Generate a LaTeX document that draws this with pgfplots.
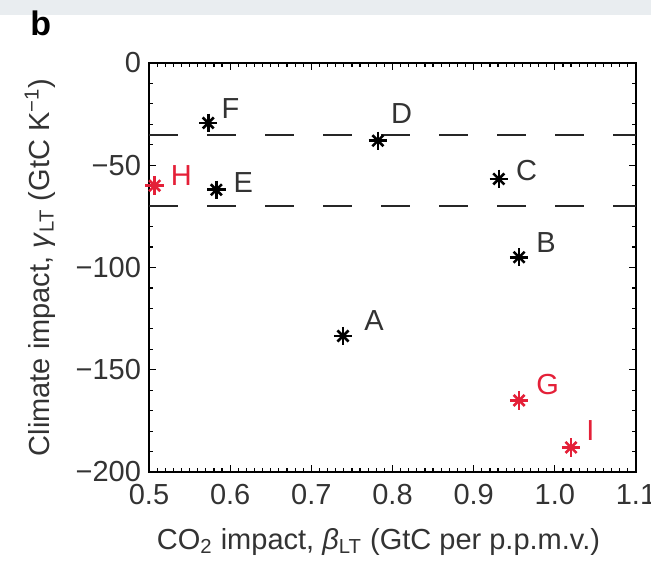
\documentclass[border=0pt]{standalone}
\usepackage{pgfplots}
\pgfplotsset{compat=1.18}
\usepackage{pgfplotstable}
\usepackage{fontspec}
\setmainfont{Liberation Sans}
\definecolor{mred}{RGB}{228,32,56}
\definecolor{band}{RGB}{233,237,240}

\pgfplotstableread{
x y lab dx dy
0.739 -133.5 A 10 7.5
0.956 -95 B 8 7.5
0.931 -56.7 C 8 4
0.782 -38 D 6 13.5
0.583 -62 E 8 3.5
0.573 -29.3 F 6 7
}\blackdata

\pgfplotstableread{
x y lab dx dy
0.956 -165 G 8 8
0.507 -60 H 7.5 5
1.020 -188 I 7 8.5
}\reddata

\begin{document}
\begin{tikzpicture}[font=\fontsize{14.5}{17}\selectfont]
\begin{axis}[
  name=ax, scale only axis, width=243.5pt, height=204.5pt,
  xmin=0.5, xmax=1.1, ymin=-200, ymax=0,
  xtick={0.5,0.6,0.7,0.8,0.9,1.0,1.1},
  xticklabels={0.5,0.6,0.7,0.8,0.9,1.0,1.1},
  ytick={-200,-150,-100,-50,0},
  yticklabels={−200,−150,−100,−50,0},
  minor x tick num=9, minor y tick num=4,
  tick align=inside, major tick length=3.5pt, minor tick length=2pt,
  axis line style={line width=0.8pt},
  tick style={black, line width=0.6pt},
  ticklabel style={font=\fontsize{14.5}{17}\selectfont, text=black!80},
  xticklabel style={yshift=-2.5pt, overlay},
  yticklabel style={xshift=-0.5pt},
  every axis x label/.style={at={(rel axis cs:0.5,0)}, anchor=base, yshift=-38.5pt, xshift=-7pt, font=\fontsize{14.5}{17}\selectfont, text=black!80},
  every axis y label/.style={at={(rel axis cs:0,0.5)}, anchor=center, rotate=90, yshift=54.5pt, font=\fontsize{14.5}{17}\selectfont, text=black!80},
  xlabel={CO\textsubscript{2} impact, \textit{β}\textsubscript{LT} (GtC per p.p.m.v.)},
  ylabel={Climate impact, \textit{γ}\textsubscript{LT} (GtC K\textsuperscript{−1})},
  clip=false,
]
\addplot[black!85, line width=1pt, dash pattern=on 14.5pt off 14.5pt, forget plot] coordinates {(0.5,-35) (1.1,-35)};
\addplot[black!85, line width=1pt, dash pattern=on 14.5pt off 14.5pt, forget plot] coordinates {(0.5,-70) (1.1,-70)};

\addplot[only marks, mark=+, mark size=4.6pt, line width=1.3pt, black,
  point meta=explicit symbolic,
  visualization depends on={\thisrow{dx}\as\dx},
  visualization depends on={\thisrow{dy}\as\dy},
  nodes near coords,
  nodes near coords style={anchor=west, inner sep=0pt, xshift=\dx pt, yshift=\dy pt, text=black!80, font=\fontsize{14.5}{17}\selectfont}]
  table[x=x, y=y, meta=lab]{\blackdata};
\addplot[only marks, mark=x, mark size=3.9pt, line width=1.3pt, black] table[x=x, y=y]{\blackdata};

\addplot[only marks, mark=+, mark size=4.6pt, line width=1.3pt, mred,
  point meta=explicit symbolic,
  visualization depends on={\thisrow{dx}\as\dx},
  visualization depends on={\thisrow{dy}\as\dy},
  nodes near coords,
  nodes near coords style={anchor=west, inner sep=0pt, xshift=\dx pt, yshift=\dy pt, text=mred, font=\fontsize{14.5}{17}\selectfont}]
  table[x=x, y=y, meta=lab]{\reddata};
\addplot[only marks, mark=x, mark size=3.9pt, line width=1.3pt, mred] table[x=x, y=y]{\reddata};
\end{axis}
\fill[band] ([xshift=-74.5pt,yshift=31.5pt]ax.north west) rectangle ([xshift=7.5pt,yshift=24pt]ax.north east);
\node[anchor=base west, inner sep=0pt, font=\bfseries\fontsize{17}{19}\selectfont] at ([xshift=-59.5pt,yshift=13.5pt]ax.north west) {b};
\path ([xshift=-74.5pt,yshift=-44pt]ax.south west) rectangle ([xshift=7.5pt,yshift=31.5pt]ax.north east);
\end{tikzpicture}
\end{document}
